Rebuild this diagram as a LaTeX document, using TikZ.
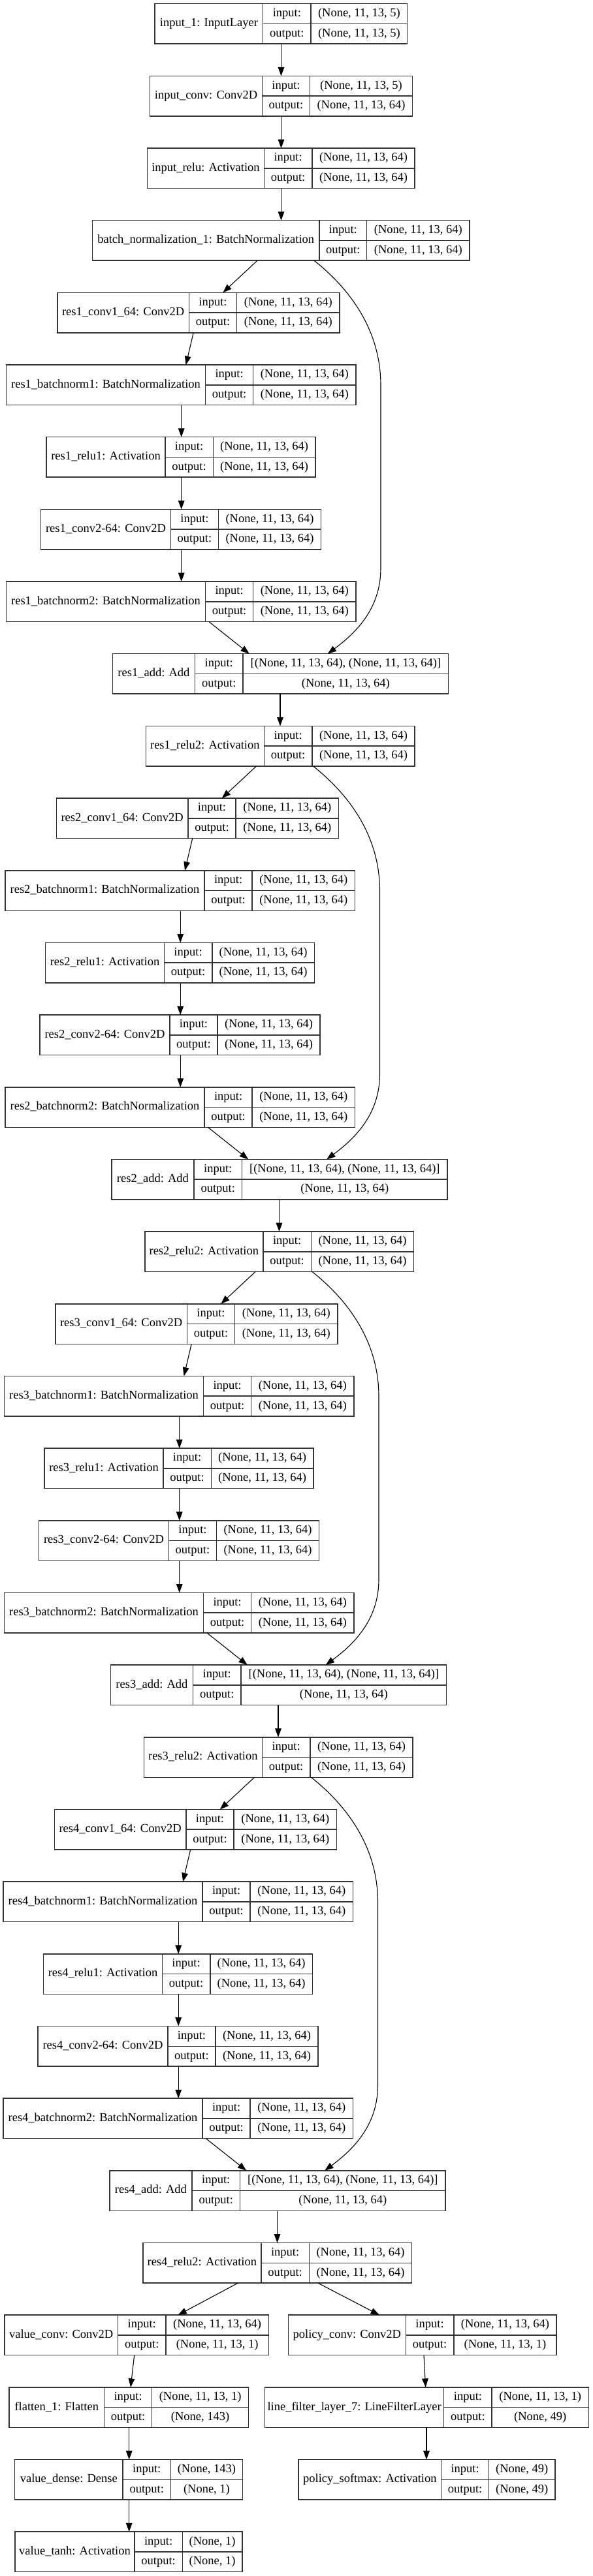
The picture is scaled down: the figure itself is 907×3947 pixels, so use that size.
\documentclass[tikz,border=0pt]{standalone}
\usepackage{fontspec}
\setmainfont{Liberation Serif}
\usetikzlibrary{positioning,arrows.meta,calc}

% one keras layer record: name, row, x0, x1, x2, x3, label, input, output
\newcommand{\layer}[9]{%
  \pgfmathsetmacro\lyTop{5.7+(#2)*110.67}%
  \pgfmathsetmacro\lyMid{\lyTop+30.75}%
  \pgfmathsetmacro\lyBot{\lyTop+61.5}%
  \pgfmathsetmacro\lyW{(#6-#3)*0.5}%
  \node[layerbox, minimum width=\lyW pt] (#1) at ({(#3+#6)/2},\lyMid) {};
  \draw[cellrule] (#4,\lyTop) -- (#4,\lyBot) (#5,\lyTop) -- (#5,\lyBot) (#4,\lyMid) -- (#6,\lyMid);
  \node[celltext] (#1-name) at ({(#3+#4)/2},\lyMid) {#7};
  \node[celltext] (#1-inkey) at ({(#4+#5)/2},{\lyTop+15.4}) {input:};
  \node[celltext] (#1-outkey) at ({(#4+#5)/2},{\lyMid+15.4}) {output:};
  \node[celltext] (#1-inval) at ({(#5+#6)/2},{\lyTop+15.4}) {#8};
  \node[celltext] (#1-outval) at ({(#5+#6)/2},{\lyMid+15.4}) {#9};
}

\begin{document}
\begin{tikzpicture}[x=0.5pt, y=-0.5pt,
    layerbox/.style={draw=black!80, line width=0.75pt, inner sep=0pt, outer sep=0pt, minimum height=30.75pt},
    cellrule/.style={draw=black!80, line width=0.75pt},
    celltext/.style={inner sep=0pt, font=\fontsize{9.25pt}{11pt}\selectfont, text height=6.4pt, text depth=2pt},
    flowarrow/.style={draw=black, line width=0.55pt, -{Triangle[length=6.7pt,width=4.8pt]}}]
    \useasboundingbox (0,0) rectangle (907,3947);

    % =========================================================
    % INPUT STEM
    % =========================================================
    \layer{input1}{0}{237.2}{402.6}{476.1}{623.6}{input\_1: InputLayer}{(None, 11, 13, 5)}{(None, 11, 13, 5)}
    \layer{inconv}{1}{229.7}{401.5}{474.4}{631.7}{input\_conv: Conv2D}{(None, 11, 13, 5)}{(None, 11, 13, 64)}
    \layer{inrelu}{2}{225.6}{404.4}{477.8}{635.2}{input\_relu: Activation}{(None, 11, 13, 64)}{(None, 11, 13, 64)}
    \layer{bnorm1}{3}{141.7}{488.8}{561.7}{719.1}{batch\_normalization\_1: BatchNormalization}{(None, 11, 13, 64)}{(None, 11, 13, 64)}

    \draw[flowarrow] (input1.south -| 430.5,0) -- (inconv.north -| 430.5,0);
    \draw[flowarrow] (inconv.south -| 430.5,0) -- (inrelu.north -| 430.5,0);
    \draw[flowarrow] (inrelu.south -| 430.5,0) -- (bnorm1.north -| 430.5,0);

    % =========================================================
    % RESIDUAL BLOCKS 1..4
    % =========================================================
    \foreach \k in {1,...,4}{
      \pgfmathtruncatemacro\rz{4+7*(\k-1)}
      \ifnum\k=1 \def\src{bnorm1}\else \pgfmathtruncatemacro\pk{\k-1}\edef\src{res\pk-relu2}\fi
      \begin{scope}[xshift={-0.75pt*(\k-1)}]
        \layer{res\k-conv1}{\rz}{87.9}{289.3}{362.7}{520.1}{res\k\_conv1\_64: Conv2D}{(None, 11, 13, 64)}{(None, 11, 13, 64)}
        \layer{res\k-bn1}{\rz+1}{9.3}{314.7}{387.6}{545.0}{res\k\_batchnorm1: BatchNormalization}{(None, 11, 13, 64)}{(None, 11, 13, 64)}
        \layer{res\k-relu1}{\rz+2}{71.2}{252.8}{326.3}{483.0}{res\k\_relu1: Activation}{(None, 11, 13, 64)}{(None, 11, 13, 64)}
        \layer{res\k-conv2}{\rz+3}{62.5}{261.5}{334.4}{491.7}{res\k\_conv2-64: Conv2D}{(None, 11, 13, 64)}{(None, 11, 13, 64)}
        \layer{res\k-bn2}{\rz+4}{9.3}{314.7}{387.6}{545.0}{res\k\_batchnorm2: BatchNormalization}{(None, 11, 13, 64)}{(None, 11, 13, 64)}
        \layer{res\k-add}{\rz+5}{172.4}{298.5}{372.0}{686.7}{res\k\_add: Add}{[(None, 11, 13, 64), (None, 11, 13, 64)]}{(None, 11, 13, 64)}
        \layer{res\k-relu2}{\rz+6}{223.3}{404.4}{477.8}{635.2}{res\k\_relu2: Activation}{(None, 11, 13, 64)}{(None, 11, 13, 64)}

        % main path
        \draw[flowarrow] (\src.south -| 394,0) -- (res\k-conv1.north -| 341.3,0);
        \draw[flowarrow] (res\k-conv1.south -| 296.2,0) -- (res\k-bn1.north -| 284.6,0);
        \draw[flowarrow] (res\k-bn1.south -| 277.7,0) -- (res\k-relu1.north -| 277.7,0);
        \draw[flowarrow] (res\k-relu1.south -| 277.7,0) -- (res\k-conv2.north -| 277.7,0);
        \draw[flowarrow] (res\k-conv2.south -| 277.7,0) -- (res\k-bn2.north -| 277.7,0);
        \draw[flowarrow] (res\k-bn2.south -| 319.9,0) -- (res\k-add.north -| 381.8,0);
        \draw[flowarrow] (res\k-add.south -| 429,0) -- (res\k-relu2.north -| 429,0);
        % skip connection
        \draw[flowarrow] (\src.south -| 481,0) .. controls +(48,38) and +(0,-90) .. ++(102,191)
            -- ++(0,280.5) .. controls +(0,62) and +(43,-32) .. (res\k-add.north -| 501.7,0);
      \end{scope}
    }

    % =========================================================
    % VALUE AND POLICY HEADS
    % =========================================================
    \layer{vconv}{32}{6.9}{180.5}{254.0}{411.3}{value\_conv: Conv2D}{(None, 11, 13, 64)}{(None, 11, 13, 1)}
    \layer{pconv}{32}{441.4}{621.3}{694.8}{852.1}{policy\_conv: Conv2D}{(None, 11, 13, 64)}{(None, 11, 13, 1)}
    \layer{flatten}{33}{13.9}{159.7}{232.6}{380.7}{flatten\_1: Flatten}{(None, 11, 13, 1)}{(None, 143)}
    \layer{linefilter}{33}{405.5}{679.7}{753.2}{901.3}{line\_filter\_layer\_7: LineFilterLayer}{(None, 11, 13, 1)}{(None, 49)}
    \layer{vdense}{34}{22.6}{188.0}{261.5}{371.4}{value\_dense: Dense}{(None, 143)}{(None, 1)}
    \layer{psoftmax}{34}{457.0}{675.7}{748.6}{849.8}{policy\_softmax: Activation}{(None, 49)}{(None, 49)}
    \layer{vtanh}{35}{23.1}{205.9}{279.4}{370.8}{value\_tanh: Activation}{(None, 1)}{(None, 1)}

    \draw[flowarrow] (res4-relu2.south -| 364.5,0) -- (vconv.north -| 272.5,0);
    \draw[flowarrow] (res4-relu2.south -| 486.7,0) -- (pconv.north -| 581,0);
    \draw[flowarrow] (vconv.south -| 205.7,0) -- (flatten.north -| 200,0);
    \draw[flowarrow] (flatten.south -| 197.7,0) -- (vdense.north -| 197.7,0);
    \draw[flowarrow] (vdense.south -| 197.7,0) -- (vtanh.north -| 197.7,0);
    \draw[flowarrow] (pconv.south -| 649,0) -- (linefilter.north -| 651.7,0);
    \draw[flowarrow] (linefilter.south -| 653,0) -- (psoftmax.north -| 653,0);
\end{tikzpicture}
\end{document}
